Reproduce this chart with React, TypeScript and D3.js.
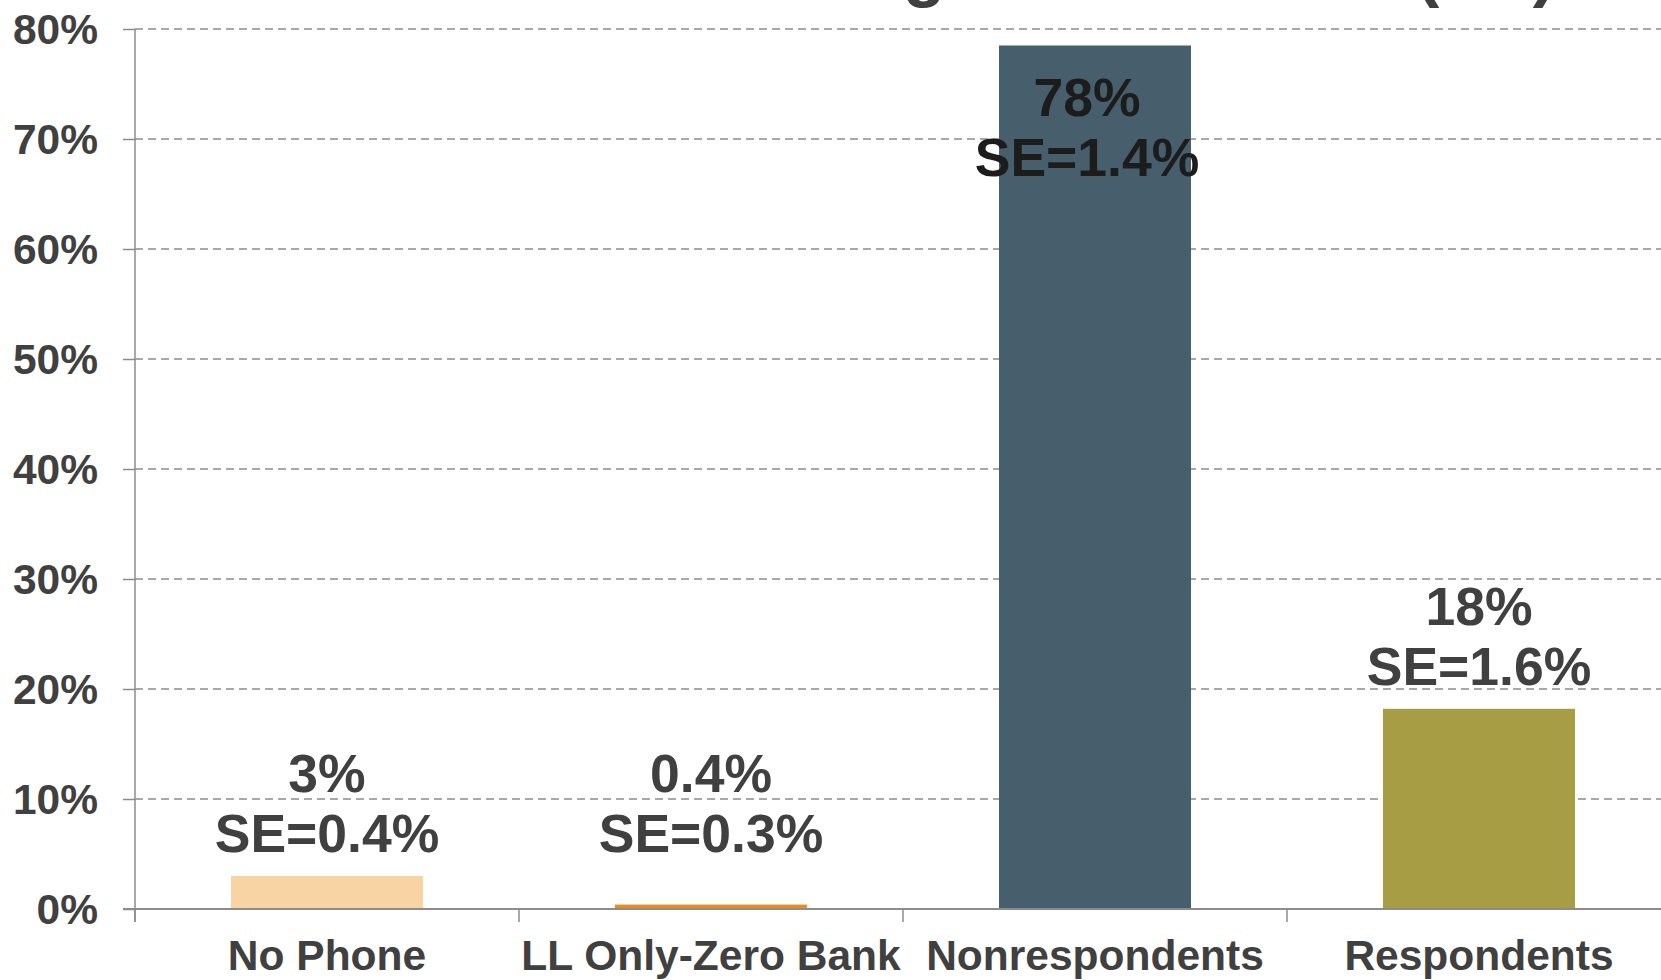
import React, {useRef, useEffect} from 'react'
import {select, scaleBand, scaleLinear, axisLeft} from 'd3'

const categories = ['No Phone', 'LL Only-Zero Bank', 'Nonrespondents', 'Respondents']
const values = [3.0, 0.4, 78.5, 18.2]
const pctLabels = ['3%', '0.4%', '78%', '18%']
const seLabels = ['SE=0.4%', 'SE=0.3%', 'SE=1.4%', 'SE=1.6%']
const barColors = ['#f8d3a3', '#ea8a1f', '#475e6c', '#a69d44']
const yTicks = [0, 10, 20, 30, 40, 50, 60, 70, 80]
const titleText = 'Screening Distributions (SE)'

const App = () => {
  const ref = useRef<SVGSVGElement>(null)

  useEffect(() => {
    if (!ref.current) return
    const width = 1661
    const font = '"Liberation Sans", Arial, sans-serif'
    const textColor = '#404040'
    const gridColor = '#8c8c8c'

    const svg = select(ref.current)
    svg.selectAll('*').remove()

    const x = scaleBand<string>()
      .domain(categories)
      .range([135, 135 + 4 * 384])
      .paddingInner(0)
      .paddingOuter(0)
    const y = scaleLinear().domain([0, 80]).range([909, 29])

    // title sits above the visible area, only descenders show
    svg.append('text')
      .attr('x', 1556)
      .attr('y', -7)
      .attr('text-anchor', 'end')
      .attr('font-family', font)
      .attr('font-weight', 'bold')
      .attr('font-size', 70)
      .attr('fill', textColor)
      .text(titleText)

    // gridlines
    svg.append('g')
      .selectAll('line')
      .data(yTicks.filter(d => d > 0))
      .join('line')
      .attr('x1', 135)
      .attr('x2', width)
      .attr('y1', d => y(d))
      .attr('y2', d => y(d))
      .attr('stroke', gridColor)
      .attr('stroke-width', 1.5)
      .attr('stroke-dasharray', '8,5')

    // bars
    svg.append('g')
      .selectAll('rect')
      .data(values)
      .join('rect')
      .attr('x', (d, i) => x(categories[i])! + x.bandwidth() * 0.25)
      .attr('width', x.bandwidth() * 0.5)
      .attr('y', d => y(d))
      .attr('height', d => y(0) - y(d))
      .attr('fill', (d, i) => barColors[i])

    // y axis
    const gy = svg.append('g')
      .attr('transform', 'translate(135,0)')
      .call(axisLeft(y).tickValues(yTicks).tickSizeInner(12).tickSizeOuter(0).tickPadding(25).tickFormat(d => d + '%'))
    gy.select('.domain').remove()
    gy.selectAll('.tick line').attr('stroke', gridColor).attr('stroke-width', 1.5)
    gy.selectAll('.tick text')
      .attr('font-family', font)
      .attr('font-weight', 'bold')
      .attr('font-size', 42.5)
      .attr('fill', textColor)
      .attr('dy', '0.35em')

    svg.append('line')
      .attr('x1', 135).attr('x2', 135)
      .attr('y1', y(80)).attr('y2', y(0) + 13)
      .attr('stroke', gridColor).attr('stroke-width', 1.5)

    // x axis
    svg.append('line')
      .attr('x1', 123).attr('x2', width)
      .attr('y1', y(0)).attr('y2', y(0))
      .attr('stroke', gridColor).attr('stroke-width', 2)
    svg.append('g')
      .selectAll('line')
      .data(categories)
      .join('line')
      .attr('x1', d => x(d)!)
      .attr('x2', d => x(d)!)
      .attr('y1', y(0))
      .attr('y2', y(0) + 13)
      .attr('stroke', gridColor)
      .attr('stroke-width', 1.5)

    svg.append('g')
      .selectAll('text')
      .data(categories)
      .join('text')
      .attr('x', d => x(d)! + x.bandwidth() / 2)
      .attr('y', 970)
      .attr('text-anchor', 'middle')
      .attr('font-family', font)
      .attr('font-weight', 'bold')
      .attr('font-size', 42.5)
      .attr('fill', textColor)
      .text(d => d)

    // value labels, kept inside the plot at the top
    const labelBase = (v: number) => Math.max(y(Math.max(v, 3)) - 84, 116)
    const labels = svg.append('g')
    values.forEach((v, i) => {
      const inside = labelBase(v) === 116
      const cx = x(categories[i])! + x.bandwidth() / 2 + (inside ? -8 : 0)
      const b = labelBase(v)
      const fill = inside ? '#1c1c1c' : textColor
      labels.append('text')
        .attr('x', cx).attr('y', b)
        .attr('text-anchor', 'middle')
        .attr('font-family', font).attr('font-weight', 'bold').attr('font-size', 53.5)
        .attr('fill', fill)
        .text(pctLabels[i])
      labels.append('text')
        .attr('x', cx).attr('y', b + 60)
        .attr('text-anchor', 'middle')
        .attr('font-family', font).attr('font-weight', 'bold').attr('font-size', 53.5)
        .attr('fill', fill)
        .text(seLabels[i])
    })
  }, [])

  return (
    <svg ref={ref} width={1661} height={980}
      style={{position: 'absolute', left: 0, top: 0, background: '#fff'}} />
  )
}

export default App
